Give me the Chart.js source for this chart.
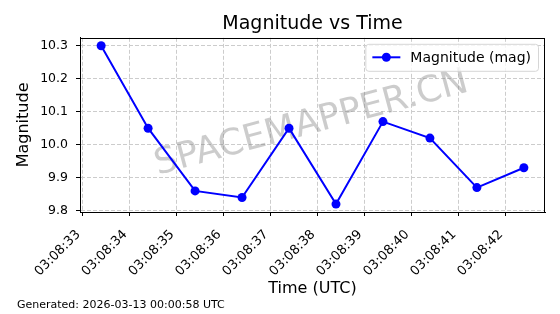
<!DOCTYPE html>
<html>
<head>
<meta charset="utf-8">
<script src="https://cdn.jsdelivr.net/npm/chart.js@4"></script>
<style>
  html, body { margin: 0; padding: 0; background: #fff; }
  #wrap { width: 560px; height: 314px; }
</style>
</head>
<body>
<div id="wrap"><canvas id="magChart" width="560" height="314"></canvas></div>
<script>
// seconds after 03:08:00 UTC
const times = [33.4, 34.4, 35.4, 36.4, 37.4, 38.4, 39.4, 40.4, 41.4, 42.4];
const magnitudes = [10.30, 10.05, 9.86, 9.84, 10.05, 9.82, 10.07, 10.02, 9.87, 9.93];
const xTicks = [33, 34, 35, 36, 37, 38, 39, 40, 41, 42];
const yTicks = [9.8, 9.9, 10.0, 10.1, 10.2, 10.3];
const footer = 'Generated: 2026-03-13 00:00:58 UTC';
const watermark = 'SPACEMAPPER.CN';

const FONT = "'DejaVu Sans', sans-serif";

// matplotlib style 5% margins
function pad(arr) {
  const lo = Math.min(...arr), hi = Math.max(...arr);
  const m = (hi - lo) * 0.05;
  return [lo - m, hi + m];
}
const [xMin, xMax] = pad(times);
const [yMin, yMax] = pad(magnitudes);

const extras = {
  id: 'extras',
  beforeDatasetsDraw(chart) {
    const ctx = chart.ctx, a = chart.chartArea;
    ctx.save();
    ctx.translate((a.left + a.right) / 2 - 1, (a.top + a.bottom) / 2 - 1);
    ctx.rotate(-15 * Math.PI / 180);
    ctx.font = '36px ' + FONT;
    ctx.fillStyle = 'rgba(128,128,128,0.4)';
    ctx.textAlign = 'center';
    ctx.textBaseline = 'middle';
    ctx.fillText(watermark, 0, 0);
    ctx.restore();
  },
  afterDraw(chart) {
    const ctx = chart.ctx, a = chart.chartArea;
    ctx.save();
    // frame
    ctx.strokeStyle = '#000';
    ctx.lineWidth = 1;
    ctx.setLineDash([]);
    ctx.strokeRect(Math.round(a.left) + 0.5, Math.round(a.top) + 0.5,
      Math.round(a.right - a.left) - 1, Math.round(a.bottom - a.top));

    // legend
    const label = chart.data.datasets[0].label;
    ctx.font = '14px ' + FONT;
    const tw = ctx.measureText(label).width;
    const w = 45 + tw + 7, h = 27;
    const x = a.right - 7 - w, y = a.top + 6;
    ctx.beginPath();
    ctx.roundRect(x + 0.5, y + 0.5, w, h, 3);
    ctx.fillStyle = 'rgba(255,255,255,0.8)';
    ctx.fill();
    ctx.strokeStyle = '#d6d6d6';
    ctx.stroke();
    const my = y + h / 2;
    ctx.strokeStyle = '#0000ff';
    ctx.lineWidth = 2;
    ctx.beginPath();
    ctx.moveTo(x + 7, my);
    ctx.lineTo(x + 35, my);
    ctx.stroke();
    ctx.fillStyle = '#0000ff';
    ctx.beginPath();
    ctx.arc(x + 21, my, 4.5, 0, Math.PI * 2);
    ctx.fill();
    ctx.fillStyle = '#000';
    ctx.textAlign = 'left';
    ctx.textBaseline = 'middle';
    ctx.fillText(label, x + 45, my + 1);

    // footer
    ctx.font = '11px ' + FONT;
    ctx.fillText(footer, 17, 305);
    ctx.restore();
  }
};

const gridOpts = {
  color: '#cccccc',
  tickColor: '#000',
  tickBorderDash: [],
  tickLength: 4
};

const ctx = document.getElementById('magChart').getContext('2d');
const myChart = new Chart(ctx, {
  type: 'line',
  data: {
    datasets: [{
      label: 'Magnitude (mag)',
      data: times.map((t, i) => ({ x: t, y: magnitudes[i] })),
      borderColor: '#0000ff',
      backgroundColor: '#0000ff',
      borderWidth: 2,
      pointRadius: 4.5,
      pointHoverRadius: 4.5,
      pointBorderWidth: 0,
      tension: 0,
      fill: false
    }]
  },
  options: {
    responsive: false,
    animation: false,
    events: [],
    layout: { padding: { left: 0, right: 15, top: 0, bottom: 0 } },
    plugins: {
      legend: { display: false },
      tooltip: { enabled: false },
      title: {
        display: true,
        text: 'Magnitude vs Time',
        fullSize: false,
        color: '#000',
        font: { family: FONT, size: 19, weight: 'normal' },
        padding: { top: 13, bottom: 2 }
      }
    },
    scales: {
      x: {
        type: 'linear',
        min: xMin,
        max: xMax,
        afterBuildTicks: (scale) => { scale.ticks = xTicks.map(v => ({ value: v })); },
        afterFit: (scale) => { scale.height = 102; },
        ticks: {
          autoSkip: false,
          maxRotation: 45,
          minRotation: 45,
          padding: 11,
          labelOffset: -4,
          color: '#000',
          font: { family: FONT, size: 13 },
          callback: (v) => '03:08:' + String(v).padStart(2, '0')
        },
        grid: gridOpts,
        border: { color: '#000', dash: [4, 2] },
        title: {
          display: true,
          text: 'Time (UTC)',
          color: '#000',
          font: { family: FONT, size: 16 },
          padding: { top: 0, bottom: 16 }
        }
      },
      y: {
        min: yMin,
        max: yMax,
        afterBuildTicks: (scale) => { scale.ticks = yTicks.map(v => ({ value: v })); },
        afterFit: (scale) => { scale.width = 80; },
        ticks: {
          padding: 8,
          color: '#000',
          font: { family: FONT, size: 12.5 },
          callback: (v) => v.toFixed(1)
        },
        grid: gridOpts,
        border: { color: '#000', dash: [4, 2] },
        title: {
          display: true,
          text: 'Magnitude',
          color: '#000',
          font: { family: FONT, size: 16 },
          padding: { top: 14, bottom: 0 }
        }
      }
    }
  },
  plugins: [extras]
});
</script>
</body>
</html>
